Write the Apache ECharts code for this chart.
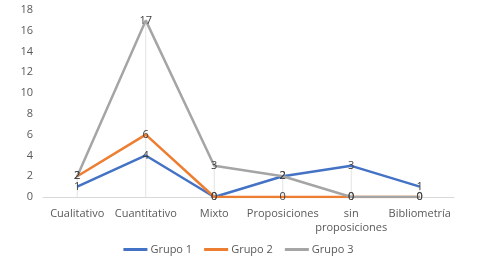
<!DOCTYPE html>
<html>
<head>
<meta charset="utf-8">
<script src="https://cdn.jsdelivr.net/npm/echarts@6/dist/echarts.min.js"></script>
<style>
  html, body { margin: 0; padding: 0; background: #fff; }
  #chart { width: 477px; height: 264px; }
</style>
</head>
<body>
<div id="chart"></div>
<script>
const categories = ['Cualitativo', 'Cuantitativo', 'Mixto', 'Proposiciones', 'sin\nproposiciones', 'Bibliometría'];
const grupo1 = [1, 4, 0, 2, 3, 1];
const grupo2 = [2, 6, 0, 0, 0, 0];
const grupo3 = [2, 17, 3, 2, 0, 0];
const yTicks = { min: 0, max: 18, interval: 2 };

// Excel-style drop lines: from the highest point down to the axis
const dropLines = categories.map((c, i) => Math.max(grupo1[i], grupo2[i], grupo3[i]));

const font = '"Open Sans", "Noto Sans", sans-serif';
const chart = echarts.init(document.getElementById('chart'));

function lineSeries(name, data, color) {
  return {
    name: name,
    type: 'line',
    data: data,
    symbol: 'circle',
    symbolSize: 0.1,
    showSymbol: true,
    lineStyle: { color: color, width: 2.5 },
    itemStyle: { color: color },
    label: {
      show: true,
      position: 'inside',
      color: '#404040',
      fontSize: 11,
      fontFamily: font
    },
    z: 3
  };
}

chart.setOption({
  animation: false,
  textStyle: { fontFamily: font },
  grid: { left: 43, right: 23, top: 10, bottom: 67 },
  legend: {
    bottom: 4,
    left: 'center',
    itemWidth: 24,
    itemHeight: 3,
    itemGap: 12,
    icon: 'rect',
    data: ['Grupo 1', 'Grupo 2', 'Grupo 3'],
    textStyle: { color: '#595959', fontSize: 11, fontFamily: font, padding: [0, 0, 0, -2] }
  },
  xAxis: {
    type: 'category',
    data: categories,
    boundaryGap: true,
    axisLine: { lineStyle: { color: '#d9d9d9', width: 1 } },
    axisTick: { show: false },
    axisLabel: { color: '#595959', fontSize: 11, margin: 10, interval: 0, lineHeight: 14 }
  },
  yAxis: {
    type: 'value',
    min: yTicks.min,
    max: yTicks.max,
    interval: yTicks.interval,
    axisLine: { show: false },
    axisTick: { show: false },
    splitLine: { show: false },
    axisLabel: { color: '#595959', fontSize: 11, margin: 10 }
  },
  series: [
    {
      name: 'drop',
      type: 'bar',
      data: dropLines,
      barWidth: 1,
      itemStyle: { color: '#e3e3e3' },
      silent: true,
      z: 1
    },
    lineSeries('Grupo 1', grupo1, '#4472C4'),
    lineSeries('Grupo 2', grupo2, '#ED7D31'),
    lineSeries('Grupo 3', grupo3, '#A5A5A5')
  ]
});
</script>
</body>
</html>
